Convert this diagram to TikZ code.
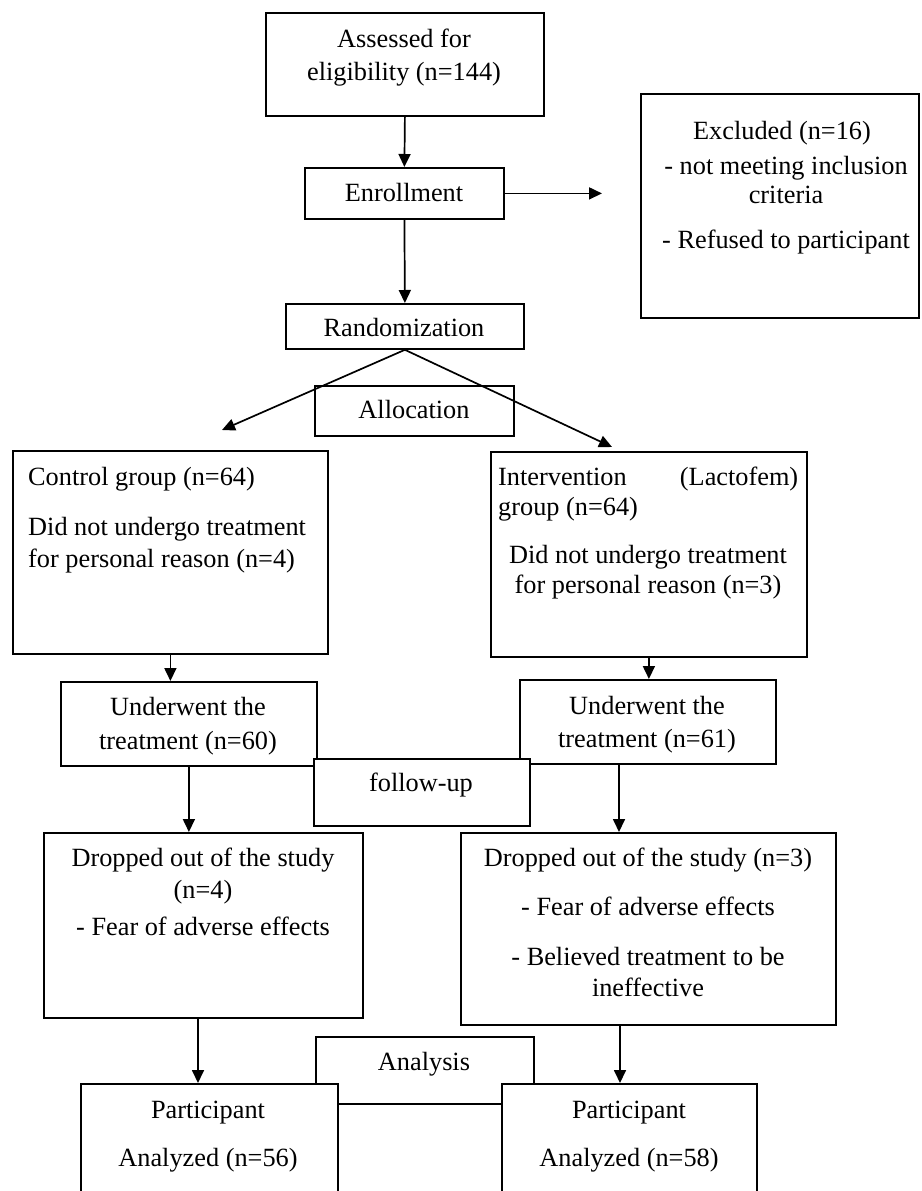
\documentclass[tikz,border=0pt]{standalone}
\usepackage{fontspec}
\setmainfont{Liberation Serif}
\usetikzlibrary{arrows.meta}
\begin{document}
\begin{tikzpicture}[x=1pt,y=-1pt,
  box/.style={draw, line width=1.8pt, inner sep=0pt, anchor=north west, fill=white},
  txt/.style={inner sep=0pt, anchor=base, font=\fontsize{26.3}{33}\selectfont},
  arr/.style={line width=1.7pt, -{Triangle[length=13pt,width=12pt]}}]
\useasboundingbox (0,0) rectangle (921,1191);
\clip (0,0) rectangle (921,1191);
% boxes
\node[box, minimum width=278pt, minimum height=103pt] (assess) at (265,12) {};
\node[box, minimum width=199pt, minimum height=51pt] (enroll) at (304,167) {};
\node[box, minimum width=238pt, minimum height=45pt] (rand) at (285,303) {};
\node[box, minimum width=278pt, minimum height=224pt] (excl) at (640,93) {};
\node[box, minimum width=199pt, minimum height=50pt] (alloc) at (314,385) {};
\node[box, minimum width=315pt, minimum height=203pt] (ctrl) at (12,450) {};
\node[box, minimum width=316pt, minimum height=205pt] (intv) at (490,451) {};
\node[box, minimum width=256pt, minimum height=84pt] (ul) at (60,681) {};
\node[box, minimum width=256pt, minimum height=84pt] (ur) at (519,679) {};
\node[box, minimum width=216pt, minimum height=67pt] (fu) at (313,758) {};
\node[box, minimum width=319pt, minimum height=185pt] (dl) at (43,832) {};
\node[box, minimum width=375pt, minimum height=192pt] (dr) at (460,832) {};
\node[box, minimum width=218pt, minimum height=67pt] (an) at (315,1036) {};
\node[box, minimum width=257pt, minimum height=130pt] (pl) at (80,1083) {};
\node[box, minimum width=255pt, minimum height=130pt] (pr) at (501,1083) {};
% free ends and connector columns
\coordinate (exclIn) at (602,194);
\coordinate (allocL) at (222,430);
\coordinate (allocR) at (612,447);
\coordinate (xR1) at (619,0);
\coordinate (xL2) at (198,0);
\coordinate (xR2) at (620,0);
% connectors
\draw[arr] (assess.south) -- (enroll.north);
\draw[arr] (enroll.east) -- (enroll.east -| exclIn);
\draw[arr] (enroll.south) -- (rand.north);
\draw[arr] (rand.south) -- (allocL);
\draw[arr] (rand.south) -- (allocR);
\draw[arr] (ctrl.south) -- (ctrl.south |- ul.north);
\draw[arr] (intv.south) -- (intv.south |- ur.north);
\draw[arr] (ul.south) -- (ul.south |- dl.north);
\draw[arr] (ur.south -| xR1) -- (dr.north -| xR1);
\draw[arr] (dl.south -| xL2) -- (pl.north -| xL2);
\draw[arr] (dr.south -| xR2) -- (pr.north -| xR2);
% texts
\node[txt] (tA1) at (404,47) {Assessed for};
\node[txt] (tA2) at (404,80) {eligibility (n=144)};
\node[txt] (tE) at (404,201) {Enrollment};
\node[txt] (tR) at (404,336) {Randomization};
\node[txt] (tX1) at (782,139) {Excluded (n=16)};
\node[txt] (tX2) at (786,174) {- not meeting inclusion};
\node[txt] (tX3) at (786,203) {criteria};
\node[txt] (tX4) at (786,248) {- Refused to participant};
\node[txt] (tAl) at (414,418) {Allocation};
\node[txt, anchor=base west] (tC1) at (28,485) {Control group (n=64)};
\node[txt, anchor=base west] (tC2) at (28,535) {Did not undergo treatment};
\node[txt, anchor=base west] (tC3) at (28,567) {for personal reason (n=4)};
\node[txt, anchor=base west] (tI1) at (498,485) {\makebox[300pt]{Intervention\hfill(Lactofem)}};
\node[txt, anchor=base west] (tI2) at (498,515) {group (n=64)};
\node[txt] (tI3) at (648,563) {Did not undergo treatment};
\node[txt] (tI4) at (648,593) {for personal reason (n=3)};
\node[txt] (tU1) at (188,715) {Underwent the};
\node[txt] (tU2) at (188,749) {treatment (n=60)};
\node[txt] (tV1) at (647,714) {Underwent the};
\node[txt] (tV2) at (647,747) {treatment (n=61)};
\node[txt] (tF) at (421,791) {follow-up};
\node[txt] (tD1) at (203,866) {Dropped out of the study};
\node[txt] (tD2) at (203,898) {(n=4)};
\node[txt] (tD3) at (203,935) {- Fear of adverse effects};
\node[txt] (tG1) at (648,866) {Dropped out of the study (n=3)};
\node[txt] (tG2) at (648,915) {- Fear of adverse effects};
\node[txt] (tG3) at (648,965) {- Believed treatment to be};
\node[txt] (tG4) at (648,996) {ineffective};
\node[txt] (tAn) at (424,1070) {Analysis};
\node[txt] (tP1) at (208,1118) {Participant};
\node[txt] (tP2) at (208,1166) {Analyzed (n=56)};
\node[txt] (tQ1) at (629,1118) {Participant};
\node[txt] (tQ2) at (629,1166) {Analyzed (n=58)};
\end{tikzpicture}
\end{document}
